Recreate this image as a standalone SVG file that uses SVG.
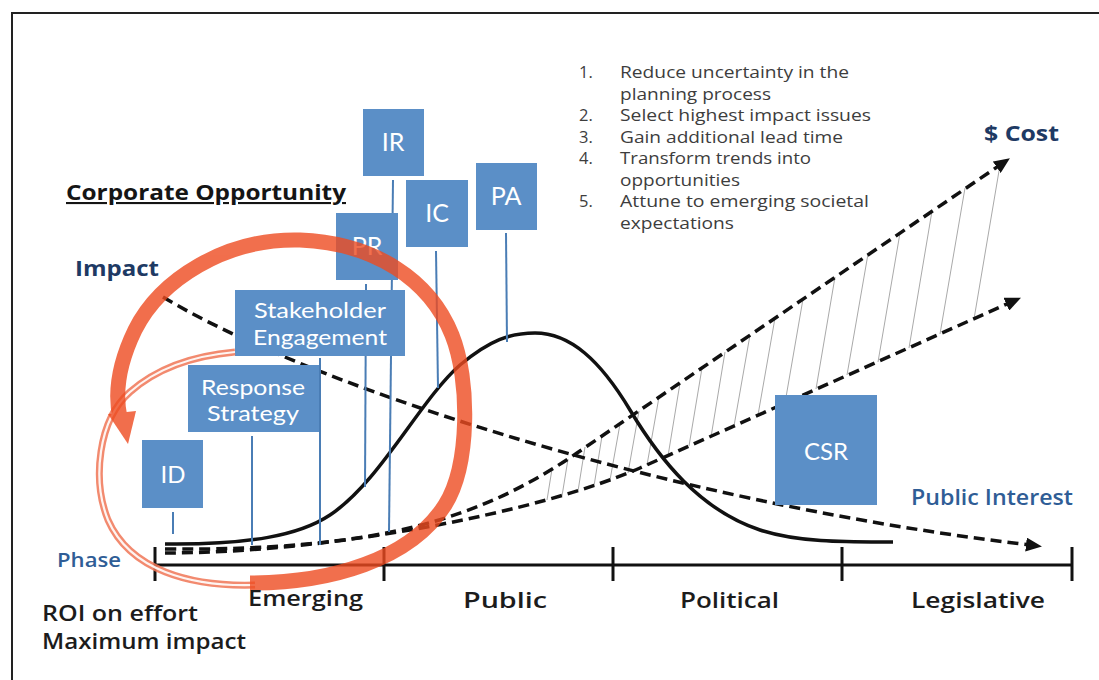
<svg xmlns="http://www.w3.org/2000/svg" width="1099" height="680" viewBox="0 0 1099 680">
<defs>
<style>
.box{fill:#5b8fc7;}
.bl{font-family:Lato,"Open Sans",sans-serif;fill:#fff;text-anchor:middle;}
.stem{stroke:#4a7db5;stroke-width:2;fill:none;}
.dash{fill:none;stroke:#111;stroke-width:3.5;stroke-dasharray:11 6;}
.hatch{stroke:#a9a9a9;stroke-width:1;fill:none;}
.lst{font-family:"Open Sans",sans-serif;font-size:16.5px;fill:#3d3d3d;}
.ax{font-family:"Open Sans",sans-serif;font-weight:600;font-size:22px;fill:#1c1c1c;}
.nv{font-family:"Open Sans",sans-serif;font-weight:700;fill:#1e3a64;}
.bu{font-family:"Open Sans",sans-serif;font-weight:600;fill:#2f5d96;}
</style>
<marker id="ah" markerUnits="userSpaceOnUse" markerWidth="16" markerHeight="14" refX="4" refY="7" orient="auto">
<path d="M0,0 L16,7 L0,14 z" fill="#111"/>
</marker>
</defs>
<rect width="1099" height="680" fill="#fff"/>
<g id="frame" fill="none" stroke="#222" stroke-width="2">
<path d="M1099,13 H12 V680"/>
</g>

<g id="connectors">
<g id="hatching">
<line class="hatch" x1="547" y1="500" x2="552" y2="469"/>
<line class="hatch" x1="562" y1="496" x2="568" y2="459"/>
<line class="hatch" x1="578" y1="491" x2="585" y2="447"/>
<line class="hatch" x1="594" y1="486" x2="602" y2="436"/>
<line class="hatch" x1="610" y1="480" x2="620" y2="424"/>
<line class="hatch" x1="628" y1="473" x2="639" y2="411"/>
<line class="hatch" x1="647" y1="465" x2="659" y2="397"/>
<line class="hatch" x1="668" y1="456" x2="680" y2="383"/>
<line class="hatch" x1="689" y1="446" x2="702" y2="368"/>
<line class="hatch" x1="711" y1="437" x2="725" y2="352"/>
<line class="hatch" x1="734" y1="426" x2="750" y2="335"/>
<line class="hatch" x1="758" y1="415" x2="775" y2="318"/>
<line class="hatch" x1="785" y1="403" x2="803" y2="299"/>
<line class="hatch" x1="816" y1="389" x2="835" y2="277"/>
<line class="hatch" x1="847" y1="375" x2="868" y2="254"/>
<line class="hatch" x1="878" y1="362" x2="900" y2="233"/>
<line class="hatch" x1="909" y1="348" x2="932" y2="211"/>
<line class="hatch" x1="940" y1="334" x2="965" y2="188"/>
<line class="hatch" x1="974" y1="319" x2="1000" y2="165"/>
</g>
<line x1="155" y1="565" x2="1072" y2="565" stroke="#111" stroke-width="3"/>
<g stroke="#111" stroke-width="3">
<line x1="155" y1="547" x2="155" y2="581"/>
<line x1="384" y1="547" x2="384" y2="581"/>
<line x1="613" y1="547" x2="613" y2="581"/>
<line x1="842" y1="547" x2="842" y2="581"/>
<line x1="1072" y1="547" x2="1072" y2="581"/>
</g>
<path class="dash" d="M165,553 C330,553 540,512 640,468 L1010,302.6" marker-end="url(#ah)"/>
<path class="dash" d="M165,549 C380,551 480,519 577,453 L1000,165" marker-end="url(#ah)"/>
<path class="dash" d="M163,297 C300,380 650,500 1030,545" marker-end="url(#ah)"/>
<path d="M165,544 C250,545 300,535 330,515 C380,482 420,400 460,365 C490,340 510,333 535,333 C570,333 600,360 630,410 C660,460 700,510 760,530 C800,543 850,542 893,542" fill="none" stroke="#111" stroke-width="3.5"/>
<line class="stem" x1="173" y1="512" x2="173" y2="534"/>
<line class="stem" x1="252" y1="436" x2="252" y2="545"/>
<line class="stem" x1="320" y1="358" x2="320" y2="545"/>
<line class="stem" x1="366" y1="284" x2="365" y2="487"/>
<line class="stem" x1="393" y1="180" x2="389" y2="532"/>
<line class="stem" x1="436" y1="251" x2="438" y2="388"/>
<line class="stem" x1="506" y1="233" x2="507" y2="342"/>
</g>

<g id="node-ID"><rect class="box" x="142" y="440" width="61" height="68"/><text class="bl" x="173" y="483" font-size="24">ID</text></g>
<g id="node-response"><rect class="box" x="188" y="365" width="131" height="67"/><text class="bl" x="253" y="395" font-size="22" textLength="104" lengthAdjust="spacingAndGlyphs">Response</text><text class="bl" x="253" y="421" font-size="22" textLength="92" lengthAdjust="spacingAndGlyphs">Strategy</text></g>
<g id="node-stakeholder"><rect class="box" x="235" y="290" width="170" height="66"/><text class="bl" x="320" y="318" font-size="22" textLength="132" lengthAdjust="spacingAndGlyphs">Stakeholder</text><text class="bl" x="320" y="345" font-size="22" textLength="134" lengthAdjust="spacingAndGlyphs">Engagement</text></g>
<g id="node-PR"><rect class="box" x="336" y="213" width="62" height="67"/><text class="bl" x="367" y="255" font-size="25">PR</text></g>
<g id="node-IR"><rect class="box" x="363" y="109" width="61" height="67"/><text class="bl" x="393" y="151" font-size="25">IR</text></g>
<g id="node-IC"><rect class="box" x="406" y="180" width="62" height="67"/><text class="bl" x="437" y="222" font-size="25">IC</text></g>
<g id="node-PA"><rect class="box" x="476" y="163" width="61" height="67"/><text class="bl" x="506" y="205" font-size="25">PA</text></g>
<g id="node-CSR"><rect class="box" x="775" y="395" width="102" height="110"/><text class="bl" x="826" y="460" font-size="24">CSR</text></g>

<g id="ring">
<path d="M255,585 C190,587 130,570 108,520 C92,480 98,420 130,392 C155,370 190,356 235,352" fill="none" stroke="#f07556" stroke-width="7" opacity="0.85"/>
<path d="M255,585 C190,587 130,570 108,520 C92,480 98,420 130,392 C155,370 190,356 235,352" fill="none" stroke="#fff" stroke-width="2.2" opacity="0.9"/>
<g opacity="0.8">
<path d="M250,583 C330,583 410,560 445,505 C470,465 470,380 452,335 C430,280 375,243 300,240 C225,238 160,280 135,330 C118,365 115,395 120,418" fill="none" stroke="#ee4b20" stroke-width="15"/>
<polygon points="108,414 136,411 128,444" fill="#ee4b20"/>
</g>
</g>

<g id="labels">
<text class="nv" x="66" y="200" font-size="21" style="fill:#151515" text-decoration="underline" textLength="280" lengthAdjust="spacingAndGlyphs">Corporate Opportunity</text>
<text class="nv" x="75" y="276" font-size="21" textLength="84" lengthAdjust="spacingAndGlyphs">Impact</text>
<text class="nv" x="984" y="141" font-size="22" textLength="75" lengthAdjust="spacingAndGlyphs">$ Cost</text>
<text class="bu" x="911" y="505" font-size="21" textLength="162" lengthAdjust="spacingAndGlyphs">Public Interest</text>
<text class="bu" x="57" y="567" font-size="20" textLength="64" lengthAdjust="spacingAndGlyphs">Phase</text>
<text class="ax" x="42" y="621" font-size="19.5" font-weight="500" textLength="156" lengthAdjust="spacingAndGlyphs">ROI on effort</text>
<text class="ax" x="42" y="649" font-size="19.5" font-weight="500" textLength="204" lengthAdjust="spacingAndGlyphs">Maximum impact</text>
<text class="ax" x="248" y="606" textLength="115" lengthAdjust="spacingAndGlyphs">Emerging</text>
<text class="ax" x="463" y="608" textLength="84" lengthAdjust="spacingAndGlyphs">Public</text>
<text class="ax" x="680" y="608" textLength="99" lengthAdjust="spacingAndGlyphs">Political</text>
<text class="ax" x="911" y="608" textLength="134" lengthAdjust="spacingAndGlyphs">Legislative</text>
</g>

<g id="list">
<text class="lst" x="579" y="78">1.</text>
<text class="lst" x="620" y="78" textLength="229" lengthAdjust="spacingAndGlyphs">Reduce uncertainty in the</text>
<text class="lst" x="620" y="99.5" textLength="151" lengthAdjust="spacingAndGlyphs">planning process</text>
<text class="lst" x="579" y="121">2.</text>
<text class="lst" x="620" y="121" textLength="251" lengthAdjust="spacingAndGlyphs">Select highest impact issues</text>
<text class="lst" x="579" y="142.5">3.</text>
<text class="lst" x="620" y="142.5" textLength="223" lengthAdjust="spacingAndGlyphs">Gain additional lead time</text>
<text class="lst" x="579" y="164">4.</text>
<text class="lst" x="620" y="164" textLength="191" lengthAdjust="spacingAndGlyphs">Transform trends into</text>
<text class="lst" x="620" y="185.5" textLength="120" lengthAdjust="spacingAndGlyphs">opportunities</text>
<text class="lst" x="579" y="207">5.</text>
<text class="lst" x="620" y="207" textLength="249" lengthAdjust="spacingAndGlyphs">Attune to emerging societal</text>
<text class="lst" x="620" y="228.5" textLength="114" lengthAdjust="spacingAndGlyphs">expectations</text>
</g>
</svg>
